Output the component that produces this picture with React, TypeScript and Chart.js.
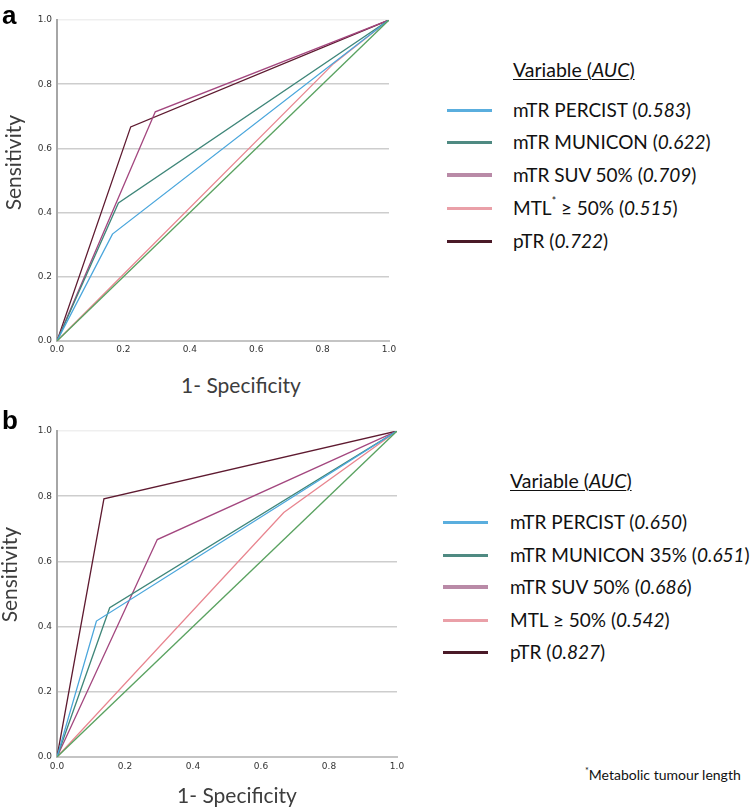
import React, { useEffect, useRef } from "react";
import { Chart, registerables } from "chart.js";

Chart.register(...registerables);

// ---------- data ----------
const TICKS = [0, 0.2, 0.4, 0.6, 0.8, 1.0];

const SERIES_COLORS = ["#4aa6dc", "#3f8679", "#a3477f", "#e8858f", "#5e1a30"];
const LEGEND_COLORS = ["#5aaede", "#4f8a82", "#b98aa7", "#eaa0a8", "#4a1a28"];
const REF_COLOR = "#5aa261";

// Panel a
const NAMES_A = ["mTR PERCIST", "mTR MUNICON", "mTR SUV 50%", "MTL* ≥ 50%", "pTR"];
const AUC_A = ["0.583", "0.622", "0.709", "0.515", "0.722"];
const A_PERCIST_X = [0, 0.167, 1];
const A_PERCIST_Y = [0, 0.333, 1];
const A_MUNICON_X = [0, 0.185, 1];
const A_MUNICON_Y = [0, 0.43, 1];
const A_SUV_X = [0, 0.296, 1];
const A_SUV_Y = [0, 0.714, 1];
const A_MTL_X = [0, 0.833, 1];
const A_MTL_Y = [0, 0.864, 1];
const A_PTR_X = [0, 0.222, 1];
const A_PTR_Y = [0, 0.667, 1];

// Panel b
const NAMES_B = ["mTR PERCIST", "mTR MUNICON 35%", "mTR SUV 50%", "MTL ≥ 50%", "pTR"];
const AUC_B = ["0.650", "0.651", "0.686", "0.542", "0.827"];
const B_PERCIST_X = [0, 0.116, 1];
const B_PERCIST_Y = [0, 0.417, 1];
const B_MUNICON_X = [0, 0.155, 1];
const B_MUNICON_Y = [0, 0.458, 1];
const B_SUV_X = [0, 0.295, 1];
const B_SUV_Y = [0, 0.667, 1];
const B_MTL_X = [0, 0.667, 1];
const B_MTL_Y = [0, 0.75, 1];
const B_PTR_X = [0, 0.138, 1];
const B_PTR_Y = [0, 0.792, 1];

const REF_X = [0, 1];
const REF_Y = [0, 1];

const zip = (xs: number[], ys: number[]) => xs.map((x, i) => ({ x, y: ys[i] }));

const SERIES_A = [
  zip(A_PERCIST_X, A_PERCIST_Y),
  zip(A_MUNICON_X, A_MUNICON_Y),
  zip(A_SUV_X, A_SUV_Y),
  zip(A_MTL_X, A_MTL_Y),
  zip(A_PTR_X, A_PTR_Y),
];
const SERIES_B = [
  zip(B_PERCIST_X, B_PERCIST_Y),
  zip(B_MUNICON_X, B_MUNICON_Y),
  zip(B_SUV_X, B_SUV_Y),
  zip(B_MTL_X, B_MTL_Y),
  zip(B_PTR_X, B_PTR_Y),
];

const TEXT_FONT = "Lato, 'Open Sans', sans-serif";

type PanelProps = {
  series: { x: number; y: number }[][];
  names: string[];
  top: number;
  width: number;
  height: number;
  pad: { top: number; right: number; bottom: number; left: number };
  yAxisWidth: number;
  xAxisHeight: number;
  xTickPad: number;
};

function RocChart(p: PanelProps) {
  const ref = useRef<HTMLCanvasElement | null>(null);
  useEffect(() => {
    if (!ref.current) return;
    const datasets: any[] = [
      {
        label: "Reference",
        data: zip(REF_X, REF_Y),
        borderColor: REF_COLOR,
        borderWidth: 1.3,
        pointRadius: 0,
        tension: 0,
        fill: false,
      },
      ...p.series.map((d, i) => ({
        label: p.names[i],
        data: d,
        borderColor: SERIES_COLORS[i],
        borderWidth: 1.3,
        pointRadius: 0,
        tension: 0,
        fill: false,
      })),
    ];
    const chart = new Chart(ref.current, {
      type: "line",
      data: { datasets },
      options: {
        animation: false,
        responsive: false,
        maintainAspectRatio: false,
        events: [],
        layout: { padding: p.pad },
        plugins: { legend: { display: false }, tooltip: { enabled: false } },
        scales: {
          x: {
            type: "linear",
            min: 0,
            max: 1,
            afterBuildTicks: (s: any) => {
              s.ticks = TICKS.map((v) => ({ value: v }));
            },
            afterFit: (s: any) => {
              s.height = p.xAxisHeight;
            },
            ticks: {
              padding: p.xTickPad,
              maxRotation: 0,
              autoSkip: false,
              color: "#333",
              font: { family: "'DejaVu Sans'", size: 9 },
              callback: (v: any) => Number(v).toFixed(1),
            },
            grid: { display: true, drawOnChartArea: false, drawTicks: false },
            border: { display: true, color: "#c4c4c4", width: 2 },
          },
          y: {
            type: "linear",
            min: 0,
            max: 1,
            afterBuildTicks: (s: any) => {
              s.ticks = TICKS.map((v) => ({ value: v }));
            },
            afterFit: (s: any) => {
              s.width = p.yAxisWidth;
            },
            ticks: {
              padding: 5,
              autoSkip: false,
              color: "#333",
              font: { family: "'DejaVu Sans'", size: 9 },
              callback: (v: any) => Number(v).toFixed(1),
            },
            grid: {
              drawTicks: false,
              lineWidth: 1.5,
              color: (c: any) =>
                c.tick && c.tick.value === 1 ? "#efefef" : "#cdcdcd",
            },
            border: { display: true, color: "#a6a6a6", width: 2 },
          },
        },
      },
    });
    return () => chart.destroy();
  }, []);
  return (
    <canvas
      ref={ref}
      width={p.width}
      height={p.height}
      style={{ position: "absolute", left: 0, top: p.top, width: p.width, height: p.height }}
    />
  );
}

function LegendBlock(props: {
  names: string[];
  aucs: string[];
  titleY: number;
  ys: number[];
  lineX: number;
  lineW: number;
  textX: number;
  fontSize: number;
}) {
  const { names, aucs, titleY, ys, lineX, lineW, textX, fontSize } = props;
  const renderName = (n: string) => {
    if (n.includes("*")) {
      const [pre, post] = n.split("*");
      return (
        <>
          {pre}
          <sup style={{ fontSize: fontSize * 0.55, verticalAlign: "top", lineHeight: 1 }}>*</sup>
          {post}
        </>
      );
    }
    return n;
  };
  return (
    <>
      <div
        style={{
          position: "absolute",
          left: textX,
          top: titleY - fontSize * 0.65,
          fontSize: fontSize + 0.5,
          fontFamily: TEXT_FONT,
          color: "#111",
          whiteSpace: "nowrap",
          lineHeight: 1.3,
          textDecoration: "underline",
          textUnderlineOffset: 2,
        }}
      >
        Variable (<i>AUC</i>)
      </div>
      {names.map((n, i) => (
        <React.Fragment key={n}>
          <div
            style={{
              position: "absolute",
              left: lineX,
              top: ys[i] - (i === 2 ? 2 : 1.5),
              width: lineW,
              height: i === 2 ? 4 : 3,
              background: LEGEND_COLORS[i],
            }}
          />
          <div
            style={{
              position: "absolute",
              left: textX,
              top: ys[i] - fontSize * 0.65,
              fontSize,
              fontFamily: TEXT_FONT,
              color: "#111",
              whiteSpace: "nowrap",
              lineHeight: 1.3,
            }}
          >
            {renderName(n)} (<i>{aucs[i]}</i>)
          </div>
        </React.Fragment>
      ))}
    </>
  );
}

function AxisTitles(props: { yCx: number; yCy: number; xCx: number; xCy: number }) {
  const size = 21;
  return (
    <>
      <div
        style={{
          position: "absolute",
          left: props.yCx - 100,
          top: props.yCy - size * 0.65,
          width: 200,
          textAlign: "center",
          transform: "rotate(-90deg)",
          fontSize: size,
          fontFamily: TEXT_FONT,
          color: "#3d3d3d",
          lineHeight: 1.3,
          whiteSpace: "nowrap",
        }}
      >
        Sensitivity
      </div>
      <div
        style={{
          position: "absolute",
          left: props.xCx - 100,
          top: props.xCy - size * 0.65,
          width: 200,
          textAlign: "center",
          fontSize: size,
          fontFamily: TEXT_FONT,
          color: "#3d3d3d",
          lineHeight: 1.3,
          whiteSpace: "nowrap",
        }}
      >
        1- Specificity
      </div>
    </>
  );
}

export default function App() {
  useEffect(() => {
    document.body.style.margin = "0";
  }, []);
  const letterStyle: React.CSSProperties = {
    position: "absolute",
    fontFamily: "'Liberation Sans', Arial, sans-serif",
    fontWeight: "bold",
    fontSize: 26,
    lineHeight: 1,
    color: "#000",
  };
  return (
    <div
      style={{
        position: "absolute",
        left: 0,
        top: 0,
        width: 750,
        height: 807,
        background: "#fff",
        overflow: "hidden",
      }}
    >
      <RocChart
        series={SERIES_A}
        names={NAMES_A}
        top={0}
        width={420}
        height={370}
        pad={{ top: 20, right: 31, bottom: 0, left: 0 }}
        yAxisWidth={57}
        xAxisHeight={29}
        xTickPad={3}
      />
      <RocChart
        series={SERIES_B}
        names={NAMES_B}
        top={410}
        width={420}
        height={380}
        pad={{ top: 21, right: 23, bottom: 0, left: 0 }}
        yAxisWidth={57}
        xAxisHeight={33}
        xTickPad={4}
      />
      <div style={{ ...letterStyle, left: 2, top: 2 }}>a</div>
      <div style={{ ...letterStyle, left: 2, top: 407 }}>b</div>
      <AxisTitles yCx={13} yCy={163} xCx={241} xCy={385} />
      <AxisTitles yCx={9} yCy={575} xCx={237} xCy={795} />
      <LegendBlock
        names={NAMES_A}
        aucs={AUC_A}
        titleY={69}
        ys={[110, 142, 175, 208, 241]}
        lineX={447}
        lineW={45}
        textX={513}
        fontSize={19}
      />
      <LegendBlock
        names={NAMES_B}
        aucs={AUC_B}
        titleY={480}
        ys={[522, 555, 587, 620, 652]}
        lineX={443}
        lineW={45}
        textX={510}
        fontSize={19}
      />
      <div
        style={{
          position: "absolute",
          left: 585,
          top: 766,
          fontSize: 14,
          fontFamily: TEXT_FONT,
          color: "#111",
          whiteSpace: "nowrap",
          lineHeight: 1.3,
        }}
      >
        <sup style={{ fontSize: 9, verticalAlign: "top", lineHeight: 1 }}>*</sup>
        Metabolic tumour length
      </div>
    </div>
  );
}
